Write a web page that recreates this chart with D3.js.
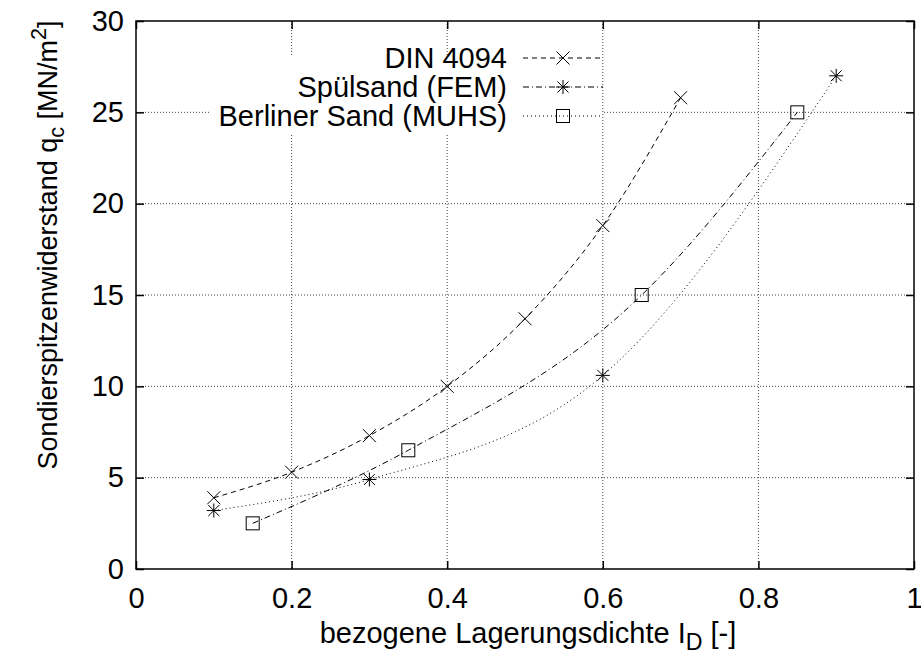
<!DOCTYPE html>
<html lang="de">
<head>
<meta charset="UTF-8">
<title>Sondierspitzenwiderstand</title>
<script src="https://d3js.org/d3.v7.min.js"></script>
<style>
  body { margin: 0; background: #fff; }
  svg text { font-family: "Liberation Sans", Arial, Helvetica, sans-serif; fill: #000; }
</style>
</head>
<body>
<div id="chart"></div>
<script>
// tick values
const xTicks = [0, 0.2, 0.4, 0.6, 0.8, 1];
const yTicks = [0, 5, 10, 15, 20, 25, 30];

// DIN 4094 (x markers, dashed curve)
const dinX = [0.1, 0.2, 0.3, 0.4, 0.5, 0.6, 0.7];
const dinY = [3.9, 5.3, 7.3, 10.0, 13.7, 18.8, 25.8];

// Spuelsand FEM (asterisks)
const fetX = [0.1, 0.3, 0.6, 0.9];
const fetY = [3.2, 4.9, 10.6, 27.0];

// Berliner Sand MUHS (squares)
const berX = [0.15, 0.35, 0.65, 0.85];
const berY = [2.5, 6.5, 15.0, 25.0];

const legendNames = ["DIN 4094", "Spülsand (FEM)", "Berliner Sand (MUHS)"];

const width = 921, height = 659;
const m = { left: 136, right: 914, top: 21, bottom: 569 };
const fontSize = 29;
const yTitleSize = 27;

const dashes = { dashed: "5,4", dashdot: "6,3,1,3", dotted: "1,3" };

const svg = d3.select("#chart").append("svg")
    .attr("width", width)
    .attr("height", height);

const x = d3.scaleLinear().domain([0, 1]).range([m.left, m.right]);
const y = d3.scaleLinear().domain([0, 30]).range([m.bottom, m.top]);

// grid
const grid = svg.append("g").attr("stroke", "#444").attr("stroke-dasharray", "1,2").attr("stroke-width", 1);
grid.selectAll("line.gx").data(xTicks.slice(1, -1)).join("line")
    .attr("class", "gx")
    .attr("x1", d => x(d)).attr("x2", d => x(d))
    .attr("y1", m.top).attr("y2", m.bottom);
grid.selectAll("line.gy").data(yTicks.slice(1, -1)).join("line")
    .attr("class", "gy")
    .attr("x1", m.left).attr("x2", m.right)
    .attr("y1", d => y(d)).attr("y2", d => y(d));

// key box clears the grid behind it
svg.append("rect")
    .attr("x", 210).attr("y", 57)
    .attr("width", 392).attr("height", 77)
    .attr("fill", "#fff");

// markers
function marker(sel, type) {
    if (type === "x") {
        sel.append("path").attr("d", "M-6.5,-6.5L6.5,6.5M-6.5,6.5L6.5,-6.5");
    } else if (type === "star") {
        sel.append("path").attr("d", "M-7,0L7,0M0,-7L0,7M-5.5,-5.5L5.5,5.5M-5.5,5.5L5.5,-5.5");
    } else {
        sel.append("rect").attr("x", -6.5).attr("y", -6.5).attr("width", 13).attr("height", 13);
    }
}

const line = d3.line()
    .x(d => x(d[0]))
    .y(d => y(d[1]))
    .curve(d3.curveMonotoneX);

const plotted = [
    { xs: dinX, ys: dinY, dash: dashes.dashed, mark: "x" },
    { xs: fetX, ys: fetY, dash: dashes.dotted, mark: "star" },
    { xs: berX, ys: berY, dash: dashes.dashdot, mark: "square" }
];

const plot = svg.append("g").attr("fill", "none").attr("stroke", "#000").attr("stroke-width", 1);

plotted.forEach(s => {
    const pts = s.xs.map((v, i) => [v, s.ys[i]]);
    plot.append("path")
        .attr("d", line(pts))
        .attr("stroke-dasharray", s.dash);
    pts.forEach(p => {
        const g = plot.append("g").attr("transform", `translate(${x(p[0])},${y(p[1])})`);
        marker(g, s.mark);
    });
});

// legend (styles as in the key)
const keyStyles = [
    { dash: dashes.dashed, mark: "x" },
    { dash: dashes.dashdot, mark: "star" },
    { dash: dashes.dotted, mark: "square" }
];
const keyRows = [58, 87, 116];

const key = svg.append("g");
legendNames.forEach((name, i) => {
    const ky = keyRows[i];
    key.append("text")
        .attr("x", 507).attr("y", ky)
        .attr("dy", "0.35em")
        .attr("text-anchor", "end")
        .attr("font-size", fontSize)
        .text(name);
    key.append("line")
        .attr("x1", 523).attr("x2", 603)
        .attr("y1", ky).attr("y2", ky)
        .attr("stroke", "#000")
        .attr("stroke-dasharray", keyStyles[i].dash);
    const g = key.append("g")
        .attr("transform", `translate(563,${ky})`)
        .attr("fill", "none").attr("stroke", "#000");
    marker(g, keyStyles[i].mark);
});

// axes, ticks inside and mirrored
const fmt = d => String(d);
svg.append("g").attr("transform", `translate(0,${m.bottom})`)
    .call(d3.axisBottom(x).tickValues(xTicks).tickSize(-8).tickPadding(18).tickFormat(fmt));
svg.append("g").attr("transform", `translate(${m.left},0)`)
    .call(d3.axisLeft(y).tickValues(yTicks).tickSize(-8).tickPadding(12).tickFormat(fmt));
svg.append("g").attr("transform", `translate(0,${m.top})`)
    .call(d3.axisTop(x).tickValues(xTicks).tickSize(-8).tickFormat(""));
svg.append("g").attr("transform", `translate(${m.right},0)`)
    .call(d3.axisRight(y).tickValues(yTicks).tickSize(-8).tickFormat(""));

svg.selectAll(".domain").remove();
svg.selectAll(".tick line").attr("stroke", "#000").attr("stroke-width", 1.5);
svg.selectAll(".tick text")
    .attr("font-size", fontSize)
    .attr("font-family", "Liberation Sans, Arial, sans-serif");

// frame
svg.append("rect")
    .attr("x", m.left).attr("y", m.top)
    .attr("width", m.right - m.left).attr("height", m.bottom - m.top)
    .attr("fill", "none").attr("stroke", "#000").attr("stroke-width", 1.5);

// axis titles
const xl = svg.append("text")
    .attr("x", 528).attr("y", 643)
    .attr("text-anchor", "middle")
    .attr("font-size", fontSize);
xl.append("tspan").text("bezogene Lagerungsdichte I");
xl.append("tspan").attr("dy", 7).attr("font-size", fontSize * 0.8).text("D");
xl.append("tspan").attr("dy", -7).text(" [-]");

const yl = svg.append("text")
    .attr("transform", `translate(57,${(m.top + m.bottom) / 2 - 50}) rotate(-90)`)
    .attr("text-anchor", "middle")
    .attr("font-size", yTitleSize);
yl.append("tspan").text("Sondierspitzenwiderstand q");
yl.append("tspan").attr("dy", 7).attr("font-size", yTitleSize * 0.8).text("c");
yl.append("tspan").attr("dy", -7).text(" [MN/m");
yl.append("tspan").attr("dy", -11).attr("font-size", yTitleSize * 0.8).text("2");
yl.append("tspan").attr("dy", 11).text("]");
</script>
</body>
</html>
